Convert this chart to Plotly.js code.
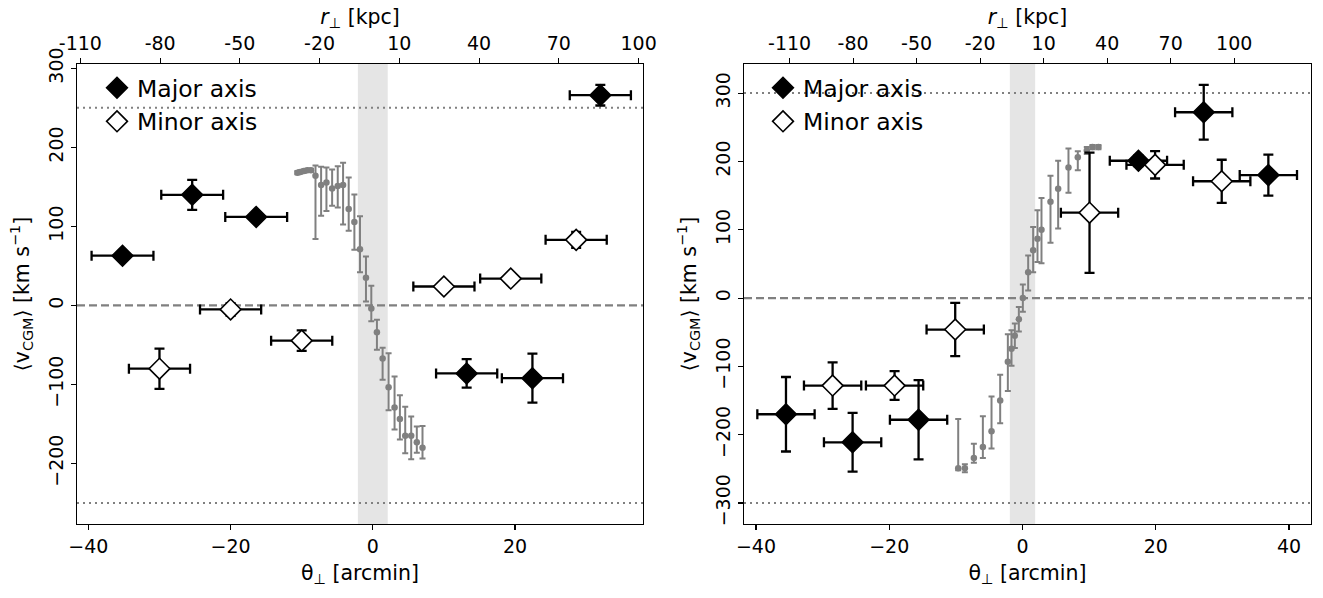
<!DOCTYPE html>
<html>
<head>
<meta charset="utf-8">
<script src="https://cdn.plot.ly/plotly-3.0.1.min.js"></script>
<style>html,body{margin:0;padding:0;background:#fff;}#chart{width:1323px;height:598px;}</style>
</head>
<body>
<div id="chart"></div>
<script>
// ---------- LEFT PANEL DATA ----------
const majLx = [-35.2, -25.4, -16.4, 13.2, 22.45, 32.0];
const majLv = [63, 140, 112, -86, -92, 266];
const majLxerr = [4.35, 4.35, 4.35, 4.3, 4.3, 4.3];
const majLverr = [5, 19, 5, 18, 31, 13];

const minLx = [-30.0, -20.0, -10.0, 10.0, 19.4, 28.6];
const minLv = [-80, -5, -44.5, 24, 34, 83];
const minLxerr = [4.3, 4.3, 4.3, 4.3, 4.3, 4.3];
const minLverr = [25.5, 8, 13, 5, 5, 10];

const grayLx = [-10.6, -10.2, -9.7, -9.2, -8.7, -8.06, -7.27, -6.52, -5.72, -4.93, -4.18, -3.39, -2.59, -1.80, -0.96, -0.21, 0.58, 1.38, 2.22, 3.06, 3.81, 4.56, 5.40, 6.19, 6.99];
const grayLv = [168, 169, 170, 171, 171, 164, 152.5, 155.5, 148, 151, 152.5, 122, 105.5, 71, 35, -4, -34, -67, -103.5, -129, -143.5, -165, -165, -173, -180];
const grayLplus = [2, 2, 2, 2, 2, 13, 23, 19, 24, 25, 28, 40, 35, 42, 27, 29, 16, 13.5, 43, 39, 30, 37, 24.5, 20, 27.5];
const grayLminus = [2, 2, 2, 2, 2, 80, 39, 36, 22, 27, 50, 27.5, 35, 29, 30, 16, 22, 27, 29, 28, 26, 22, 29.5, 13.5, 13.5];

// ---------- RIGHT PANEL DATA ----------
const majRx = [-35.5, -25.5, -15.6, 17.4, 27.2, 36.9];
const majRv = [-170, -211, -178, 201, 272, 180];
const majRxerr = [4.3, 4.3, 4.3, 4.3, 4.3, 4.3];
const majRverr = [54.5, 43, 58, 8, 40, 30];

const minRx = [-28.5, -19.2, -10.1, 10.06, 19.9, 29.9];
const minRv = [-128, -128, -46, 125, 195, 171];
const minRxerr = [4.3, 4.3, 4.3, 4.3, 4.3, 4.3];
const minRverr = [34, 21, 39, 88, 20, 31.5];

const grayRx = [-9.65, -8.65, -7.3, -5.95, -4.65, -3.35, -2.2, -1.65, -1.15, -0.55, 0.05, 0.85, 1.6, 2.25, 2.85, 4.2, 5.35, 6.9, 8.3, 9.65, 10.5, 11.4];
const grayRv = [-249, -249, -234, -218, -195, -150, -93, -74, -55, -31, 0, 38, 70, 87, 100, 141, 160, 191, 206, 216, 221, 221];
const grayRplus = [72, 6, 21, 45, 51, 38, 40, 27, 18, 18, 20, 24.5, 34, 41.6, 46.5, 38, 41, 28, 9, 5, 3, 3];
const grayRminus = [3, 6, 7, 16, 25, 33, 43, 25, 18, 18, 20, 27, 32, 34, 49, 60, 58, 37, 19, 5, 3, 3];

// ---------- AXIS / REFERENCE VALUES ----------
const xRangeL = [-41.6, 38.0], yRangeL = [-276.5, 305.5];
const xRangeR = [-41.8, 43.3], yRangeR = [-330.6, 342.6];
const kpcPerArcminL = 2.675, kpcPerArcminR = 3.147;
const bandHalfL = 2.1, bandHalfR = 1.9;
const vcircL = 250, vcircR = 300;
const topTicks = [-110, -80, -50, -20, 10, 40, 70, 100];
const topTickText = ['-110', '-80', '-50', '-20', '10', '40', '70', '100'];
const yTicksL = [-200, -100, 0, 100, 200, 300];
const yTicksR = [-300, -200, -100, 0, 100, 200, 300];
const xTicks = [-40, -20, 0, 20, 40];

const W = 1323, H = 598;
const FONT = 'DejaVu Sans, Arial, sans-serif';
const GRAY = '#808080';

function ebTrace(x, y, xe, ye, xa, ya, filled, name, legend, showleg) {
  return {
    type: 'scatter', mode: 'markers', x: x, y: y, xaxis: xa, yaxis: ya,
    name: name, legend: legend, showlegend: showleg, legendgroup: name + legend,
    marker: {symbol: 'diamond', size: 16, color: filled ? '#000' : '#fff', line: {color: '#000', width: 1.6}},
    error_x: {type: 'data', array: xe, visible: true, color: '#000', thickness: 2.3, width: 5},
    error_y: {type: 'data', array: ye, visible: true, color: '#000', thickness: 2.3, width: 5},
    hoverinfo: 'skip'
  };
}
function grayTrace(x, y, plus, minus, xa, ya) {
  return {
    type: 'scatter', mode: 'markers', x: x, y: y, xaxis: xa, yaxis: ya, showlegend: false,
    marker: {symbol: 'circle', size: 6.5, color: GRAY},
    error_y: {type: 'data', symmetric: false, array: plus, arrayminus: minus, visible: true, color: GRAY, thickness: 2, width: 3},
    hoverinfo: 'skip'
  };
}

const data = [
  grayTrace(grayLx, grayLv, grayLplus, grayLminus, 'x', 'y'),
  ebTrace(majLx, majLv, majLxerr, majLverr, 'x', 'y', true, 'Major axis', 'legend', true),
  ebTrace(minLx, minLv, minLxerr, minLverr, 'x', 'y', false, 'Minor axis', 'legend', true),
  grayTrace(grayRx, grayRv, grayRplus, grayRminus, 'x2', 'y2'),
  ebTrace(majRx, majRv, majRxerr, majRverr, 'x2', 'y2', true, 'Major axis', 'legend2', true),
  ebTrace(minRx, minRv, minRxerr, minRverr, 'x2', 'y2', false, 'Minor axis', 'legend2', true),
  // invisible anchors for the top (kpc) axes
  {type: 'scatter', mode: 'markers', x: xRangeL.map(v => v * kpcPerArcminL), y: [0, 0], xaxis: 'x3', yaxis: 'y', showlegend: false, marker: {opacity: 0}, hoverinfo: 'skip'},
  {type: 'scatter', mode: 'markers', x: xRangeR.map(v => v * kpcPerArcminR), y: [0, 0], xaxis: 'x4', yaxis: 'y2', showlegend: false, marker: {opacity: 0}, hoverinfo: 'skip'}
];

const domL = [77 / W, 643 / W], domR = [744 / W, 1311 / W];
const tickFont = {family: FONT, size: 19, color: '#000'};
const titleFont = {family: FONT, size: 20.5, color: '#000'};

function xBottom(range, dom, anchor) {
  return {domain: dom, range: range, anchor: anchor, tickvals: xTicks, ticks: 'outside', ticklen: 5, tickwidth: 1.2,
    tickcolor: '#000', showline: true, linecolor: '#000', linewidth: 1.3, showgrid: false, zeroline: false,
    tickfont: tickFont, automargin: false,
    title: {text: 'θ<sub>⊥</sub> [arcmin]', font: titleFont, standoff: 9}};
}
function xTop(range, k, overl, anchor) {
  return {overlaying: overl, side: 'top', anchor: anchor, range: [range[0] * k, range[1] * k], tickvals: topTicks, ticktext: topTickText,
    ticks: 'outside', ticklen: 5, tickwidth: 1.2, tickcolor: '#000', showline: true, linecolor: '#000', linewidth: 1.3,
    showgrid: false, zeroline: false, tickfont: tickFont, automargin: false,
    title: {text: '<i>r</i><sub>⊥</sub> [kpc]', font: titleFont, standoff: 2}};
}
function yAx(range, ticks, anchor) {
  return {domain: [0, 1], range: range, anchor: anchor, tickvals: ticks, tickangle: -90, ticks: 'outside', ticklen: 5, tickwidth: 1.2,
    tickcolor: '#000', showline: true, mirror: true, linecolor: '#000', linewidth: 1.3, showgrid: false, zeroline: false,
    tickfont: tickFont, automargin: false,
    title: {text: '⟨v<sub>CGM</sub>⟩ [km s<sup>−1</sup>]', font: titleFont, standoff: 10}};
}

function refShapes(xa, ya, band, vc) {
  return [
    {type: 'rect', xref: xa, yref: ya + ' domain', x0: -band, x1: band, y0: 0, y1: 1, fillcolor: '#e5e5e5', line: {width: 0}, layer: 'below'},
    {type: 'line', xref: xa + ' domain', yref: ya, x0: 0, x1: 1, y0: 0, y1: 0, line: {color: GRAY, width: 2.2, dash: '8px,4px'}, layer: 'below'},
    {type: 'line', xref: xa + ' domain', yref: ya, x0: 0, x1: 1, y0: vc, y1: vc, line: {color: GRAY, width: 2, dash: '2px,4px'}, layer: 'below'},
    {type: 'line', xref: xa + ' domain', yref: ya, x0: 0, x1: 1, y0: -vc, y1: -vc, line: {color: GRAY, width: 2, dash: '2px,4px'}, layer: 'below'}
  ];
}

const plotTop = 64, plotBot = 524, plotH = plotBot - plotTop;
const legendTopPaper = 1 - (66 - plotTop) / plotH;

const layout = {
  width: W, height: H,
  margin: {l: 0, r: 0, t: plotTop, b: H - plotBot, pad: 0},
  paper_bgcolor: '#fff', plot_bgcolor: '#fff',
  font: {family: FONT, size: 19, color: '#000'},
  xaxis: xBottom(xRangeL, domL, 'y'),
  yaxis: yAx(yRangeL, yTicksL, 'x'),
  xaxis2: xBottom(xRangeR, domR, 'y2'),
  yaxis2: yAx(yRangeR, yTicksR, 'x2'),
  xaxis3: xTop(xRangeL, kpcPerArcminL, 'x', 'y'),
  xaxis4: xTop(xRangeR, kpcPerArcminR, 'x2', 'y2'),
  shapes: refShapes('x', 'y', bandHalfL, vcircL).concat(refShapes('x2', 'y2', bandHalfR, vcircR)),
  legend: {x: 97 / W, y: legendTopPaper, xanchor: 'left', yanchor: 'top', bgcolor: 'rgba(0,0,0,0)',
    font: {family: FONT, size: 23.5, color: '#000'}, tracegroupgap: 4, traceorder: 'normal'},
  legend2: {x: 763 / W, y: legendTopPaper, xanchor: 'left', yanchor: 'top', bgcolor: 'rgba(0,0,0,0)',
    font: {family: FONT, size: 23.5, color: '#000'}, tracegroupgap: 4, traceorder: 'normal'},
  showlegend: true
};

Plotly.newPlot('chart', data, layout, {staticPlot: true, displayModeBar: false});
</script>
</body>
</html>
